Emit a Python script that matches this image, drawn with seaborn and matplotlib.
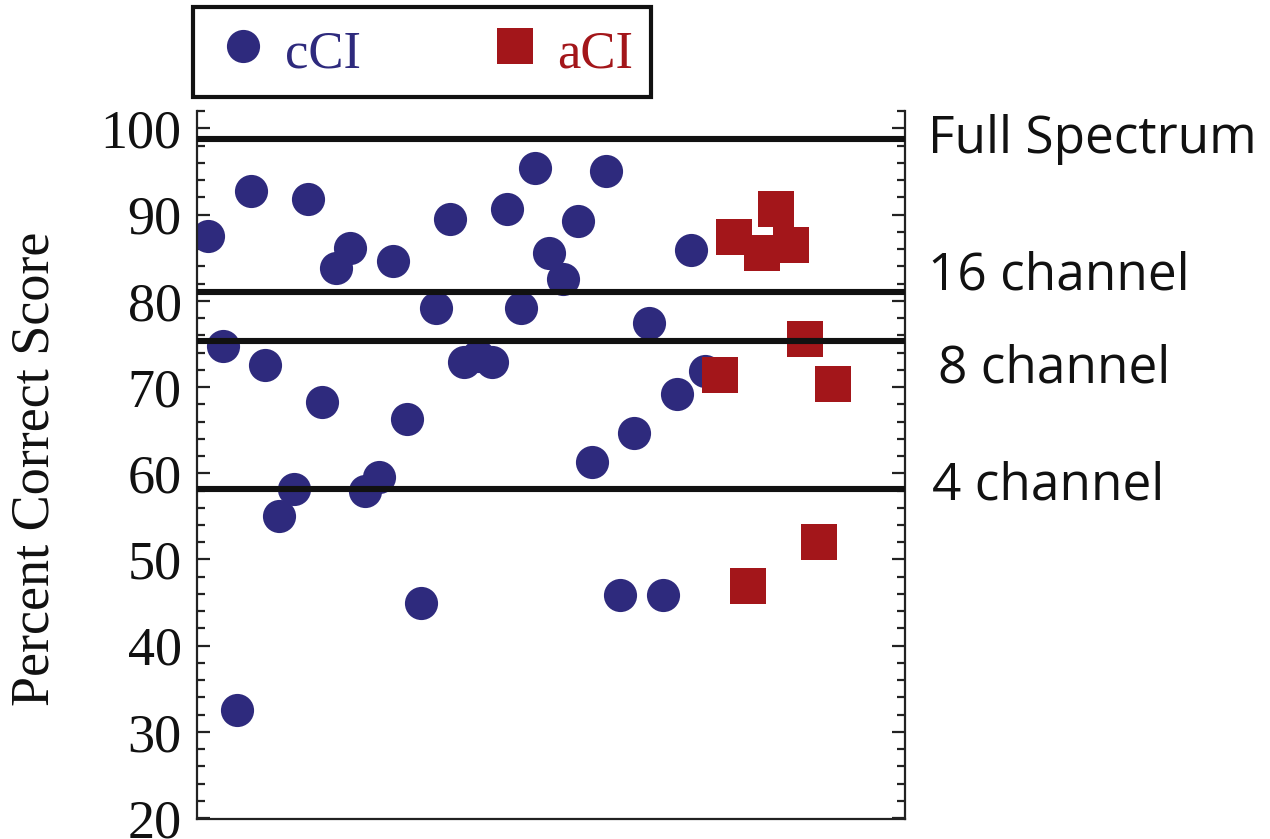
import matplotlib
matplotlib.use("Agg")
import matplotlib.pyplot as plt
import seaborn as sns
import pandas as pd
from matplotlib.ticker import MultipleLocator

# Percent correct scores per listener
cci_scores = [87.5, 74.8, 32.6, 92.7, 72.6, 55.0, 58.2, 91.8, 68.3, 83.8,
              86.1, 58.0, 59.6, 84.6, 66.3, 45.0, 79.2, 89.5, 72.9, 73.6,
              72.9, 90.7, 79.2, 95.4, 85.5, 82.5, 89.2, 61.3, 95.0, 45.9,
              64.7, 77.4, 45.9, 69.2, 85.9, 71.9]
aci_scores = [71.4, 87.4, 46.9, 85.5, 90.7, 86.5, 75.6, 52.0, 70.4]
group_names = ["cCI", "aCI"]

# Normal-hearing reference scores for vocoded speech
reference_levels = [98.8, 81.0, 75.3, 58.2]
reference_labels = ["Full Spectrum", "16 channel", "8 channel", "4 channel"]

y_ticks = [20, 30, 40, 50, 60, 70, 80, 90, 100]

sns.set_style("ticks")
plt.rcParams["font.family"] = ["Liberation Serif", "DejaVu Serif"]

W, H = 1270, 839
fig = plt.figure(figsize=(W / 100, H / 100), dpi=100)
ax = fig.add_axes([197 / W, 1 - 819 / H, (905 - 197) / W, (819 - 110.7) / H])

df = pd.DataFrame({
    "subject": list(range(len(cci_scores) + len(aci_scores))),
    "score": cci_scores + aci_scores,
    "group": [group_names[0]] * len(cci_scores) + [group_names[1]] * len(aci_scores),
})

navy = "#2E2A7D"
red = "#A3161A"

sns.scatterplot(data=df[df.group == "cCI"], x="subject", y="score", marker="o",
                s=570, color=navy, linewidth=0, label="cCI", ax=ax, zorder=2)
sns.scatterplot(data=df[df.group == "aCI"], x="subject", y="score", marker="s",
                s=700, color=red, linewidth=0, label="aCI", ax=ax, zorder=2)

# reference lines with their labels at the right
label_dx = [0.0325, 0.0325, 0.0466, 0.038]
label_dy = [-1.6, 0.3, -4.75, -1.2]
for lvl, lab, dx, dy in zip(reference_levels, reference_labels, label_dx, label_dy):
    ax.axhline(lvl, color="#111111", lw=4.4, zorder=3)
    ax.text(1 + dx, lvl + dy, lab, transform=ax.get_yaxis_transform(),
            ha="left", va="baseline", fontsize=37, color="#111111",
            family=["Open Sans", "DejaVu Sans"], clip_on=False)

ax.set_xlim(-0.8, 49.06)
ax.set_ylim(19.9, 102.05)
ax.set_yticks(y_ticks)
ax.yaxis.set_minor_locator(MultipleLocator(2))
ax.set_xticks([])
ax.set_xlabel("")

for side in ["left", "right", "bottom"]:
    ax.spines[side].set_visible(True)
    ax.spines[side].set_linewidth(1.6)
    ax.spines[side].set_color("#222222")
ax.spines["top"].set_visible(False)

ax.tick_params(axis="y", which="both", direction="in", left=True, right=True,
               labelright=False, width=1.6, color="#222222")
ax.tick_params(axis="y", which="major", length=9.5, labelsize=39, pad=11,
               labelcolor="#111111")
ax.tick_params(axis="y", which="minor", length=5.5)
ax.tick_params(axis="x", which="both", bottom=False, labelbottom=False)

ax.set_ylabel("Percent Correct Score", fontsize=39, color="#111111")
ax.yaxis.set_label_coords(-0.1935, 0.495)

handles, labels = ax.get_legend_handles_labels()
leg = ax.legend(handles, labels, ncol=2, loc="upper left",
                bbox_to_anchor=(192.7 / W, 1 - 7.3 / H),
                bbox_transform=fig.transFigure, borderaxespad=0,
                frameon=True, fancybox=False, framealpha=1,
                edgecolor="#111111", fontsize=38, borderpad=0.35,
                handlelength=1.19, handletextpad=0.2, columnspacing=2.33,
                scatteryoffsets=[0.45], handleheight=1.0)
leg.get_frame().set_linewidth(3)
for txt, col in zip(leg.get_texts(), [navy, red]):
    txt.set_color(col)

fig.savefig("out.png", dpi=100, facecolor="white")
